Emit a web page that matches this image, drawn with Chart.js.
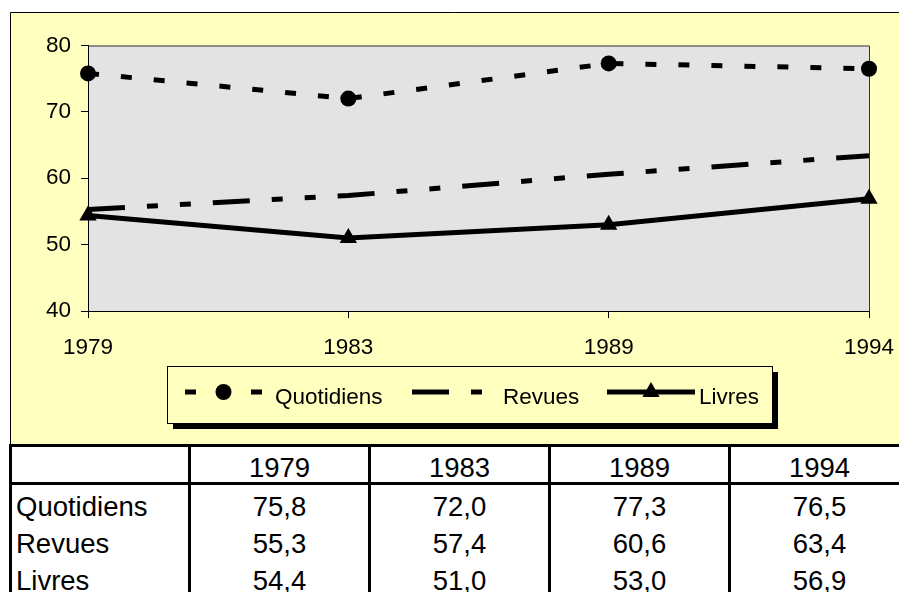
<!DOCTYPE html>
<html>
<head>
<meta charset="utf-8">
<script src="https://cdn.jsdelivr.net/npm/chart.js@4"></script>
<style>
  body { margin: 0; background: #fff; }
  #wrap { position: relative; width: 899px; height: 592px; overflow: hidden; font-family: "Liberation Sans", Arial, sans-serif; }
  #myChart { position: absolute; left: 0; top: 0; }
  .cell { position: absolute; font-size: 27.5px; line-height: 37px; height: 37px; color: #000; white-space: nowrap; }
  .line { position: absolute; background: #000; }
</style>
</head>
<body>
<div id="wrap">
  <canvas id="myChart" width="899" height="445"></canvas>
  <div id="tbl"></div>
</div>
<script>
let years = ['1979', '1983', '1989', '1994'];
let seriesNames = ['Quotidiens', 'Revues', 'Livres'];
let quotidiens = [75.8, 72.0, 77.3, 76.5];
let revues = [55.3, 57.4, 60.6, 63.4];
let livres = [54.4, 51.0, 53.0, 56.9];
let yTicks = [40, 50, 60, 70, 80];

let font = '"Liberation Sans", Arial, sans-serif';

// fond jaune + zone grise
const backgroundPlugin = {
    id: 'backgroundPlugin',
    beforeDraw(chart) {
        const ctx = chart.ctx;
        const a = chart.chartArea;
        ctx.save();
        ctx.fillStyle = '#FFFFC0';
        ctx.fillRect(10, 12, 900, 440);
        ctx.strokeStyle = '#000';
        ctx.lineWidth = 1;
        ctx.beginPath();
        ctx.moveTo(10.5, 445);
        ctx.lineTo(10.5, 12.5);
        ctx.lineTo(899, 12.5);
        ctx.stroke();
        ctx.fillStyle = '#E3E3E3';
        ctx.fillRect(a.left, a.top, a.right - a.left, a.bottom - a.top);
        ctx.strokeStyle = '#333';
        ctx.beginPath();
        ctx.moveTo(a.left, a.top + 0.5);
        ctx.lineTo(a.right + 0.5, a.top + 0.5);
        ctx.lineTo(a.right + 0.5, a.bottom);
        ctx.stroke();
        ctx.restore();
    }
};

// légende encadrée avec ombre
const legendPlugin = {
    id: 'legendPlugin',
    afterDraw(chart) {
        const ctx = chart.ctx;
        const box = { x: 167, y: 366, w: 605, h: 57 };
        ctx.save();
        ctx.fillStyle = '#000';
        ctx.fillRect(box.x + 6, box.y + 6, box.w, box.h);
        ctx.fillStyle = '#FFFFC0';
        ctx.fillRect(box.x, box.y, box.w, box.h);
        ctx.strokeStyle = '#000';
        ctx.lineWidth = 1;
        ctx.strokeRect(box.x + 0.5, box.y + 0.5, box.w, box.h);

        const items = [
            { x1: 185, x2: 262, text: 275 },
            { x1: 412, x2: 483, text: 503 },
            { x1: 607, x2: 695, text: 699 }
        ];
        const ly = 392;
        chart.data.datasets.forEach((ds, i) => {
            const it = items[i];
            ctx.lineWidth = ds.borderWidth;
            ctx.lineCap = 'butt';
            ctx.strokeStyle = ds.borderColor;
            ctx.setLineDash(ds.borderDash || []);
            ctx.beginPath();
            ctx.moveTo(it.x1, ly);
            ctx.lineTo(it.x2, ly);
            ctx.stroke();
            ctx.setLineDash([]);
            if (ds.pointRadius > 0) {
                ctx.fillStyle = ds.pointBackgroundColor;
                ctx.strokeStyle = ds.pointBackgroundColor;
                Chart.helpers.drawPoint(ctx, {
                    pointStyle: ds.pointStyle,
                    radius: ds.pointRadius,
                    borderWidth: 0,
                    rotation: 0
                }, (it.x1 + it.x2) / 2, ly);
            }
            ctx.fillStyle = '#000';
            ctx.font = '22.5px ' + font;
            ctx.textBaseline = 'middle';
            ctx.textAlign = 'left';
            ctx.fillText(ds.label, it.text, 398);
        });
        ctx.restore();
    }
};

const ctx = document.getElementById('myChart');

new Chart(ctx, {
    type: 'line',
    data: {
        labels: years,
        datasets: [{
            label: seriesNames[0],
            data: quotidiens,
            borderColor: '#000',
            borderWidth: 5,
            borderDash: [11, 22],
            pointStyle: 'circle',
            pointRadius: 8,
            pointBackgroundColor: '#000',
            pointBorderWidth: 0,
            clip: false
        }, {
            label: seriesNames[1],
            data: revues,
            borderColor: '#000',
            borderWidth: 5,
            borderDash: [37, 22, 11, 22, 11, 22],
            pointRadius: 0,
            clip: false
        }, {
            label: seriesNames[2],
            data: livres,
            borderColor: '#000',
            borderWidth: 5,
            pointStyle: 'triangle',
            pointRadius: 10,
            pointBackgroundColor: '#000',
            pointBorderWidth: 0,
            clip: false
        }]
    },
    options: {
        responsive: false,
        animation: false,
        layout: {
            padding: { left: 0, top: 45.5, right: 30, bottom: 0 }
        },
        elements: {
            line: { tension: 0, borderCapStyle: 'butt' }
        },
        scales: {
            x: {
                type: 'category',
                offset: false,
                afterFit(scale) {
                    scale.height = 134;
                    scale.paddingLeft = 0;
                    scale.paddingRight = 0;
                },
                grid: {
                    drawOnChartArea: false,
                    drawTicks: true,
                    tickLength: 7,
                    color: '#000'
                },
                border: { display: true, color: '#000', width: 1 },
                ticks: {
                    autoSkip: false,
                    maxRotation: 0,
                    padding: 16,
                    color: '#000',
                    font: { family: font, size: 22.5 }
                }
            },
            y: {
                min: yTicks[0],
                max: yTicks[yTicks.length - 1],
                afterFit(scale) { scale.width = 88; },
                afterBuildTicks(scale) {
                    scale.ticks = yTicks.map(v => ({ value: v }));
                },
                grid: {
                    drawOnChartArea: false,
                    drawTicks: true,
                    tickLength: 7,
                    color: '#000'
                },
                border: { display: true, color: '#000', width: 1 },
                ticks: {
                    padding: 10,
                    color: '#000',
                    font: { family: font, size: 22.5 }
                }
            }
        },
        plugins: {
            legend: { display: false },
            tooltip: { enabled: false }
        }
    },
    plugins: [backgroundPlugin, legendPlugin]
});

// tableau de données sous le graphique
function addTable() {
    const tbl = document.getElementById('tbl');
    const colEdges = [10.5, 189.5, 369.5, 549.5, 729.5, 909.5];
    const rowTops = [446, 488, 525, 562];
    const rows = [['', ...years]];
    const series = [quotidiens, revues, livres];
    series.forEach((s, i) => {
        rows.push([seriesNames[i], ...s.map(v => v.toFixed(1).replace('.', ','))]);
    });

    rows.forEach((row, r) => {
        row.forEach((txt, c) => {
            const d = document.createElement('div');
            d.className = 'cell';
            d.textContent = txt;
            d.style.top = (r === 0 ? 449 : rowTops[r]) + 'px';
            if (c === 0) {
                d.style.left = '16px';
            } else {
                d.style.left = (colEdges[c] + 1.5) + 'px';
                d.style.width = (colEdges[c + 1] - colEdges[c] - 3) + 'px';
                d.style.textAlign = 'center';
            }
            tbl.appendChild(d);
        });
    });

    // lignes du tableau
    function line(x, y, w, h) {
        const l = document.createElement('div');
        l.className = 'line';
        l.style.left = x + 'px';
        l.style.top = y + 'px';
        l.style.width = w + 'px';
        l.style.height = h + 'px';
        tbl.appendChild(l);
    }
    line(9, 444, 900, 3);
    line(9, 482, 900, 3);
    colEdges.forEach(x => line(x - 1.5, 444, 3, 160));
}

addTable();
</script>
</body>
</html>
